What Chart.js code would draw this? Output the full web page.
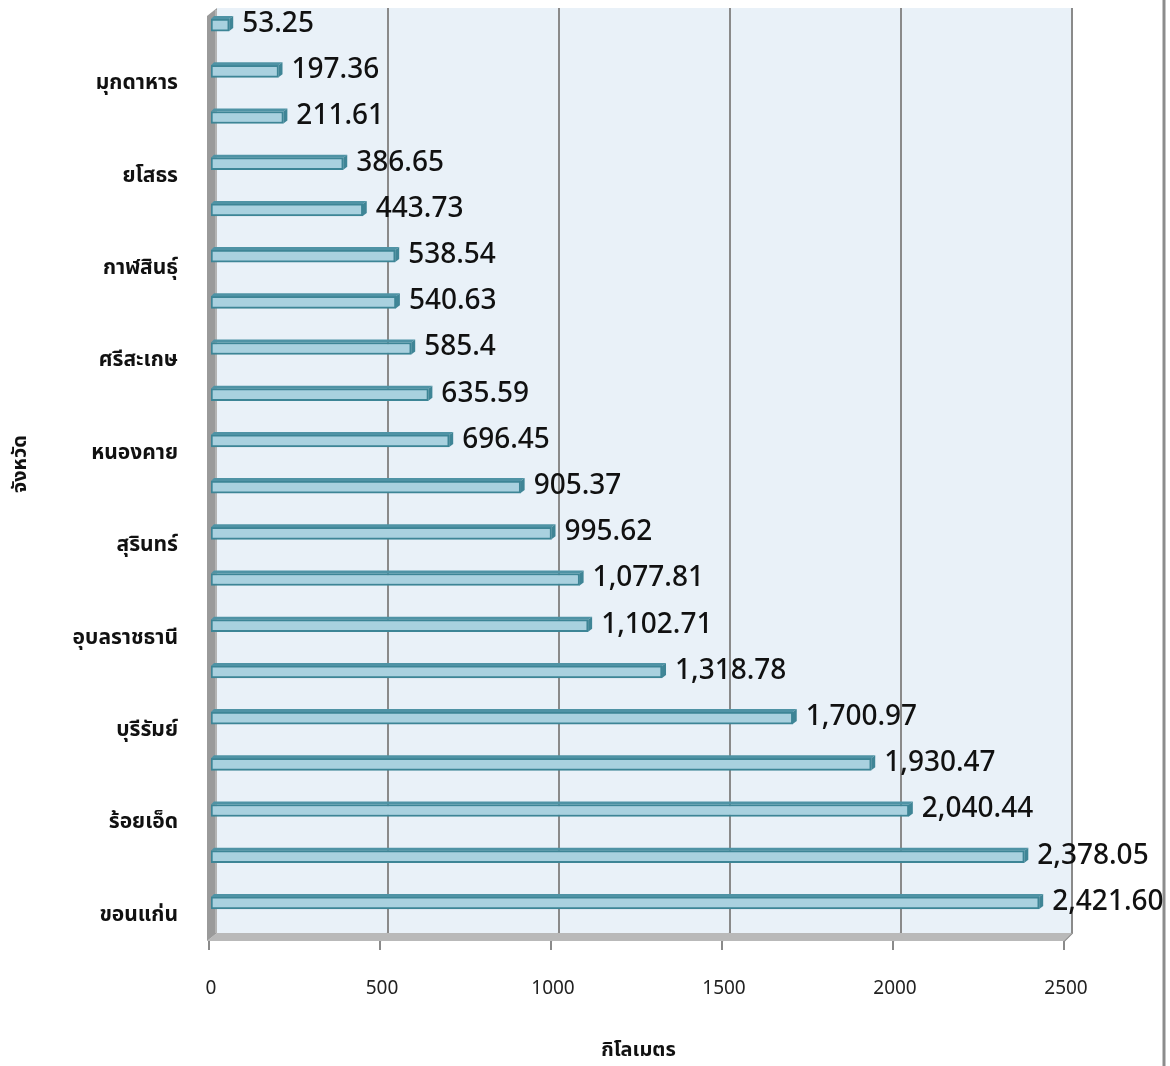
<!DOCTYPE html>
<html>
<head>
<meta charset="utf-8">
<script src="https://cdn.jsdelivr.net/npm/chart.js@4"></script>
<style>
  body { margin: 0; background: #fff; }
  #wrap { width: 1170px; height: 1066px; }
</style>
</head>
<body>
<div id="wrap"><canvas id="chart"></canvas></div>
<script>
  // top to bottom, only every second province is labelled on the axis
  const provinces = ["", "มุกดาหาร", "", "ยโสธร", "", "กาฬสินธุ์", "", "ศรีสะเกษ", "", "หนองคาย",
    "", "สุรินทร์", "", "อุบลราชธานี", "", "บุรีรัมย์", "", "ร้อยเอ็ด", "", "ขอนแก่น"];
  const distances = [53.25, 197.36, 211.61, 386.65, 443.73, 538.54, 540.63, 585.4, 635.59, 696.45,
    905.37, 995.62, 1077.81, 1102.71, 1318.78, 1700.97, 1930.47, 2040.44, 2378.05, 2421.60];
  const valueText = ["53.25", "197.36", "211.61", "386.65", "443.73", "538.54", "540.63", "585.4", "635.59", "696.45",
    "905.37", "995.62", "1,077.81", "1,102.71", "1,318.78", "1,700.97", "1,930.47", "2,040.44", "2,378.05", "2,421.60"];
  const xTicks = [0, 500, 1000, 1500, 2000, 2500];

  const FONT = "'Noto Sans', 'Noto Sans Thai', Tahoma, sans-serif";
  const DEPTH = 6;

  // back wall, side wall, floor and gridlines
  const wallsPlugin = {
    id: "walls",
    beforeDatasetsDraw(chart) {
      const { ctx, chartArea, scales } = chart;
      const xs = scales.x;
      const top = 8, floorY = 933, frontY = 941;
      const left = chartArea.left, right = xs.getPixelForValue(2500);
      ctx.save();
      ctx.fillStyle = "#e9f1f8";
      ctx.fillRect(left + DEPTH, top, right - left, floorY - top);

      // gridlines on the back wall
      ctx.strokeStyle = "#8a8a8a";
      ctx.lineWidth = 2;
      xTicks.slice(1).forEach((v) => {
        const x = xs.getPixelForValue(v) + DEPTH;
        ctx.beginPath();
        ctx.moveTo(x, top);
        ctx.lineTo(x, floorY);
        ctx.lineTo(x - DEPTH - 2, frontY);
        ctx.stroke();
      });

      // floor
      ctx.fillStyle = "#b9b9b9";
      ctx.beginPath();
      ctx.moveTo(left - 4, frontY);
      ctx.lineTo(left + DEPTH, floorY);
      ctx.lineTo(right + DEPTH, floorY);
      ctx.lineTo(right - 2, frontY);
      ctx.closePath();
      ctx.fill();

      // left side wall
      ctx.fillStyle = "#9a9a9a";
      ctx.beginPath();
      ctx.moveTo(left - 4, top + 8);
      ctx.lineTo(left + DEPTH, top);
      ctx.lineTo(left + DEPTH, floorY);
      ctx.lineTo(left - 4, frontY);
      ctx.closePath();
      ctx.fill();
      ctx.fillStyle = "#b3b3b3";
      ctx.fillRect(left + DEPTH - 2, top + 2, 2, floorY - top - 2);

      // tick marks on the front edge
      ctx.strokeStyle = "#8a8a8a";
      xTicks.forEach((v) => {
        const x = xs.getPixelForValue(v) - 2;
        ctx.beginPath();
        ctx.moveTo(x, frontY);
        ctx.lineTo(x, frontY + 9);
        ctx.stroke();
      });

      // frame line on the right of the picture
      ctx.strokeStyle = "#8c8c8c";
      ctx.lineWidth = 3;
      ctx.beginPath();
      ctx.moveTo(1164, 0);
      ctx.lineTo(1164, chart.height);
      ctx.stroke();
      ctx.restore();
    },
    afterDatasetsDraw(chart) {
      const { ctx } = chart;
      const meta = chart.getDatasetMeta(0);
      ctx.save();
      meta.data.forEach((bar, i) => {
        const h = bar.height;
        const t = bar.y - h / 2, b = bar.y + h / 2;
        // top face
        ctx.fillStyle = "#4f93a5";
        ctx.beginPath();
        ctx.moveTo(bar.base, t);
        ctx.lineTo(bar.base + 3, t - 3);
        ctx.lineTo(bar.x + 4, t - 3);
        ctx.lineTo(bar.x, t);
        ctx.closePath();
        ctx.fill();
        // end face
        ctx.fillStyle = "#3f8596";
        ctx.beginPath();
        ctx.moveTo(bar.x, t);
        ctx.lineTo(bar.x + 4, t - 3);
        ctx.lineTo(bar.x + 4, b - 3);
        ctx.lineTo(bar.x, b);
        ctx.closePath();
        ctx.fill();

        ctx.fillStyle = "#111";
        ctx.font = "500 28px " + FONT;
        ctx.textBaseline = "middle";
        ctx.textAlign = "left";
        ctx.fillText(valueText[i], bar.x + 13, bar.y - 1);
      });
      ctx.restore();
    },
  };

  new Chart(document.getElementById("chart"), {
    type: "bar",
    data: {
      labels: provinces,
      datasets: [
        {
          data: distances,
          backgroundColor: "#a9d1df",
          borderColor: "#3d8596",
          borderWidth: 2,
          borderSkipped: false,
          barThickness: 12,
        },
      ],
    },
    options: {
      indexAxis: "y",
      responsive: true,
      maintainAspectRatio: false,
      animation: false,
      layout: { padding: { top: 2, right: 104, bottom: 0, left: 0 } },
      plugins: {
        legend: { display: false },
        tooltip: { enabled: false },
      },
      scales: {
        x: {
          min: 0,
          max: 2500,
          afterFit: (s) => {
            s.height = 140;
            s.paddingLeft = 0;
            s.paddingRight = 0;
          },
          afterBuildTicks: (s) => { s.ticks = xTicks.map((v) => ({ value: v })); },
          grid: { display: false, drawTicks: false },
          border: { display: false },
          ticks: {
            padding: 51,
            color: "#222",
            font: { family: FONT, size: 19 },
            callback: (v) => String(v),
          },
          title: {
            display: true,
            text: "กิโลเมตร",
            color: "#111",
            font: { family: FONT, size: 20, weight: "bold" },
            padding: { top: 0, bottom: 4 },
          },
        },
        y: {
          afterFit: (s) => {
            s.width = 211;
            s.paddingTop = 0;
            s.paddingBottom = 0;
          },
          grid: { display: false, drawTicks: false },
          border: { display: false },
          ticks: {
            autoSkip: false,
            padding: 33,
            labelOffset: 12,
            color: "#111",
            font: { family: FONT, size: 21, weight: "bold" },
          },
          title: {
            display: true,
            text: "จังหวัด",
            color: "#111",
            font: { family: FONT, size: 20, weight: "bold" },
            padding: { top: 8, bottom: 0 },
          },
        },
      },
    },
    plugins: [wallsPlugin],
  });
</script>
</body>
</html>
